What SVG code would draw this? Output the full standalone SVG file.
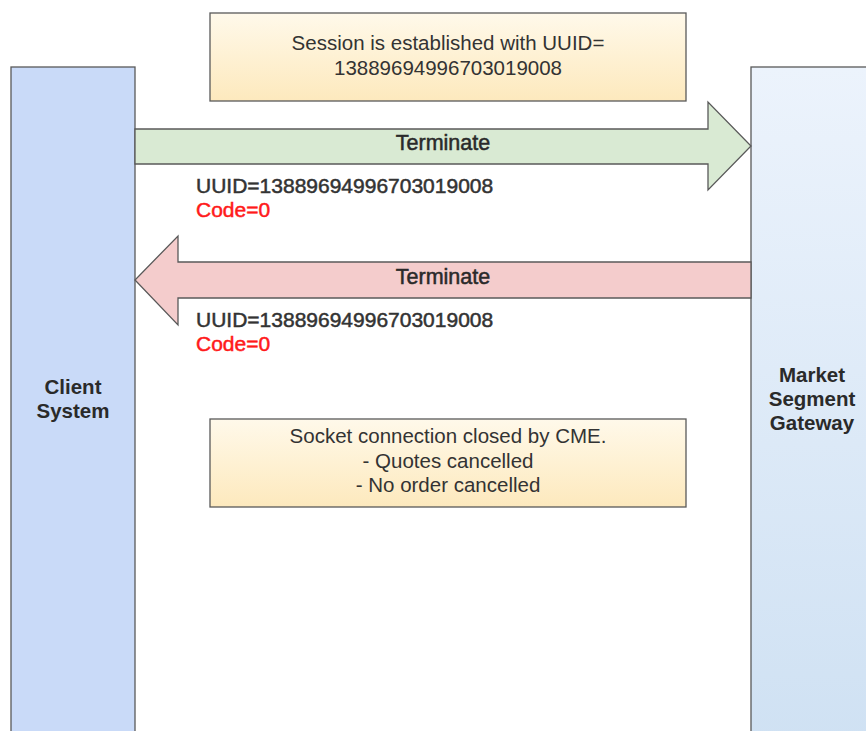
<svg xmlns="http://www.w3.org/2000/svg" width="866" height="731" viewBox="0 0 866 731">
<defs>
<linearGradient id="noteGrad" x1="0" y1="0" x2="0" y2="1">
<stop offset="0" stop-color="#fff9ea"/>
<stop offset="1" stop-color="#fde9bd"/>
</linearGradient>
<linearGradient id="gwGrad" x1="0" y1="0" x2="0" y2="1">
<stop offset="0" stop-color="#ecf3fc"/>
<stop offset="1" stop-color="#cfe1f3"/>
</linearGradient>
<style>
.box{stroke:#595959;stroke-width:1.3}
.t{font-family:"Liberation Sans",Arial,sans-serif;text-anchor:middle;fill:#333}
.note{font-size:20.5px}
.b{font-weight:bold;font-size:20.5px;fill:#2a2a2a}
.m{font-family:"Liberation Sans",Arial,sans-serif;font-size:21.5px;fill:#2a2a2a;stroke:#2a2a2a;stroke-width:0.5}
.lbl{font-family:"Liberation Sans",Arial,sans-serif;font-size:21px;fill:#333;stroke:#333;stroke-width:0.5}
.red{fill:#ff1a1a;stroke:#ff1a1a}
</style>
</defs>
<rect width="866" height="731" fill="#ffffff"/>
<g id="client-system">
<rect class="box" x="11" y="67" width="124" height="680" fill="#c9daf8"/>
<text class="t b" x="73" y="394">Client</text>
<text class="t b" x="73" y="418">System</text>
</g>
<g id="market-segment-gateway">
<rect class="box" x="751" y="67" width="124" height="680" fill="url(#gwGrad)"/>
<text class="t b" x="812" y="382">Market</text>
<text class="t b" x="812" y="406">Segment</text>
<text class="t b" x="812" y="430">Gateway</text>
</g>
<g id="note-session">
<rect class="box" x="210" y="13" width="476" height="88" fill="url(#noteGrad)"/>
<text class="t note" x="448" y="50">Session is established with UUID=</text>
<text class="t note" x="448" y="75">13889694996703019008</text>
</g>
<g id="note-socket">
<rect class="box" x="210" y="419" width="476" height="88" fill="url(#noteGrad)"/>
<text class="t note" x="448" y="443">Socket connection closed by CME.</text>
<text class="t note" x="448" y="468">- Quotes cancelled</text>
<text class="t note" x="448" y="492">- No order cancelled</text>
</g>
<g id="connectors">
<g id="terminate-request">
<polygon class="box" points="135,129 708,129 708,102 751,146 708,190 708,164 135,164" fill="#d9ead3"/>
<text class="m" x="443" y="150" text-anchor="middle">Terminate</text>
<text class="lbl" x="196" y="193">UUID=13889694996703019008</text>
<text class="lbl red" x="196" y="217">Code=0</text>
</g>
<g id="terminate-response">
<polygon class="box" points="751,262 178,262 178,236 135,280 178,325 178,298 751,298" fill="#f4cccc"/>
<text class="m" x="443" y="284" text-anchor="middle">Terminate</text>
<text class="lbl" x="196" y="327">UUID=13889694996703019008</text>
<text class="lbl red" x="196" y="351">Code=0</text>
</g>
</g>
</svg>
